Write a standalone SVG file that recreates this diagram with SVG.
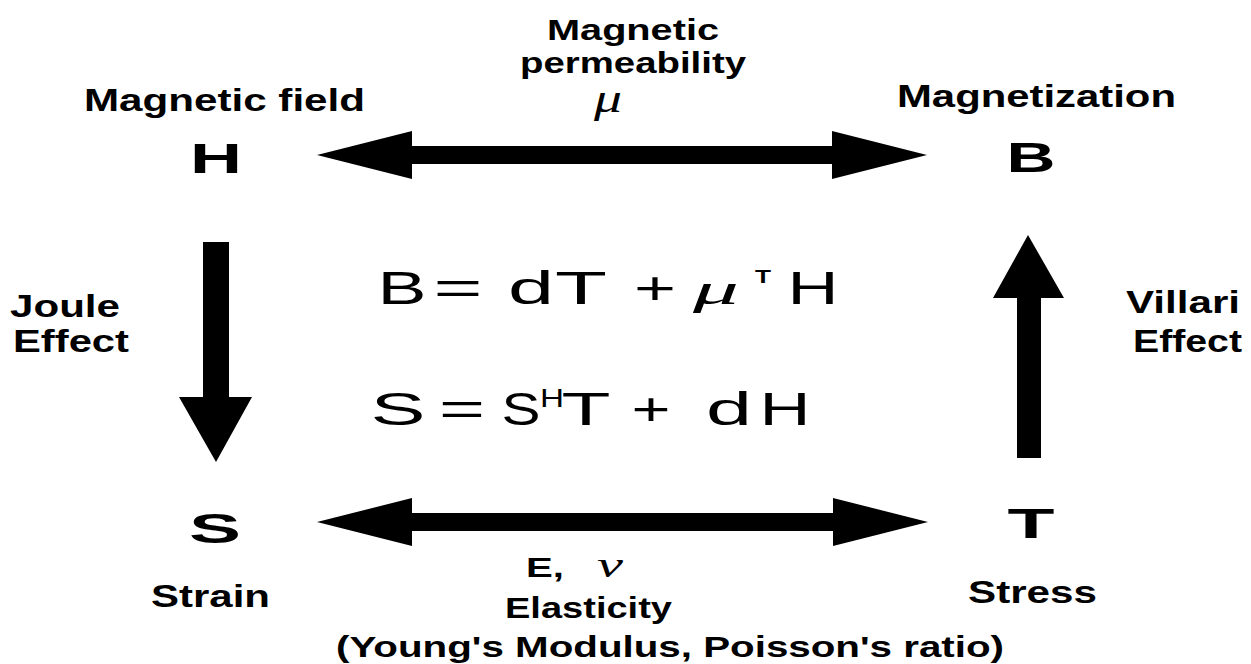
<svg xmlns="http://www.w3.org/2000/svg" width="1251" height="664" viewBox="0 0 1251 664">
<style>
.lb{font-family:"Liberation Sans",Arial,sans-serif;font-weight:bold;font-size:31px;fill:#000}
.big{font-family:"Liberation Sans",Arial,sans-serif;font-weight:bold;font-size:43px;fill:#000;text-anchor:middle}
.eq{font-family:"Liberation Sans",Arial,sans-serif;font-size:46px;fill:#000;text-anchor:middle}
.gr{font-family:"Liberation Serif","Times New Roman",serif;font-style:italic;fill:#000;text-anchor:middle}
.arr{fill:#000}
</style>
<rect width="1251" height="664" fill="#fff"/>
<g id="connectors">
<polygon class="arr" points="317,155 412,131 412,146 832,146 832,131 927,155 832,179 832,164 412,164 412,179"/>
<polygon class="arr" points="317,522 412,498 412,513 833,513 833,498 928,522 833,546 833,531 412,531 412,546"/>
<polygon class="arr" points="203,242 229,242 229,397 252,397 216,462 179,397 203,397"/>
<polygon class="arr" points="1028,235 1064,298 1041,298 1041,458 1017,458 1017,298 993,298"/>
</g>
<g id="permeability-label">
<text class="lb" x="633" y="40" text-anchor="middle" style="font-size:30px" textLength="172" lengthAdjust="spacingAndGlyphs">Magnetic</text>
<text class="lb" x="633" y="73" text-anchor="middle" style="font-size:30px" textLength="226" lengthAdjust="spacingAndGlyphs">permeability</text>
<text class="gr" x="608" y="112" style="font-size:40px" textLength="28" lengthAdjust="spacingAndGlyphs">μ</text>
</g>
<g id="node-H">
<text class="lb" x="84" y="111" style="font-size:32px" textLength="281" lengthAdjust="spacingAndGlyphs">Magnetic field</text>
<text class="big" x="216" y="173" textLength="52" lengthAdjust="spacingAndGlyphs">H</text>
</g>
<g id="node-B">
<text class="lb" x="897" y="107" style="font-size:32px" textLength="279" lengthAdjust="spacingAndGlyphs">Magnetization</text>
<text class="big" x="1031" y="172" textLength="49" lengthAdjust="spacingAndGlyphs">B</text>
</g>
<g id="joule-label">
<text class="lb" x="10" y="317" textLength="110" lengthAdjust="spacingAndGlyphs">Joule</text>
<text class="lb" x="13" y="352" textLength="116" lengthAdjust="spacingAndGlyphs">Effect</text>
</g>
<g id="villari-label">
<text class="lb" x="1126" y="313" textLength="114" lengthAdjust="spacingAndGlyphs">Villari</text>
<text class="lb" x="1133" y="352" textLength="109" lengthAdjust="spacingAndGlyphs">Effect</text>
</g>
<g id="equations">
<text class="eq" x="402" y="304" textLength="49" lengthAdjust="spacingAndGlyphs">B</text>
<text class="eq" x="458" y="304" textLength="49" lengthAdjust="spacingAndGlyphs">=</text>
<text class="eq" x="531" y="304" textLength="46" lengthAdjust="spacingAndGlyphs">d</text>
<text class="eq" x="581" y="304" textLength="52" lengthAdjust="spacingAndGlyphs">T</text>
<text class="eq" x="655" y="304" textLength="42" lengthAdjust="spacingAndGlyphs">+</text>
<text class="gr" x="716" y="304" style="font-size:44px" textLength="46" lengthAdjust="spacingAndGlyphs">μ</text>
<text class="eq" x="763" y="283" style="font-size:18px;font-weight:bold" textLength="16" lengthAdjust="spacingAndGlyphs">T</text>
<text class="eq" x="813" y="304" textLength="51" lengthAdjust="spacingAndGlyphs">H</text>
<text class="eq" x="398" y="425" textLength="55" lengthAdjust="spacingAndGlyphs">S</text>
<text class="eq" x="462" y="425" textLength="46" lengthAdjust="spacingAndGlyphs">=</text>
<text class="eq" x="521" y="425" textLength="39" lengthAdjust="spacingAndGlyphs">S</text>
<text class="eq" x="552" y="407" style="font-size:26px" textLength="24" lengthAdjust="spacingAndGlyphs">H</text>
<text class="eq" x="586" y="425" textLength="49" lengthAdjust="spacingAndGlyphs">T</text>
<text class="eq" x="651" y="425" textLength="39" lengthAdjust="spacingAndGlyphs">+</text>
<text class="eq" x="729" y="425" textLength="46" lengthAdjust="spacingAndGlyphs">d</text>
<text class="eq" x="785" y="425" textLength="51" lengthAdjust="spacingAndGlyphs">H</text>
</g>
<g id="node-S">
<text class="big" x="215" y="543" textLength="52" lengthAdjust="spacingAndGlyphs">S</text>
<text class="lb" x="151" y="607" textLength="119" lengthAdjust="spacingAndGlyphs">Strain</text>
</g>
<g id="node-T">
<text class="big" x="1031" y="538" textLength="47" lengthAdjust="spacingAndGlyphs">T</text>
<text class="lb" x="968" y="603" textLength="129" lengthAdjust="spacingAndGlyphs">Stress</text>
</g>
<g id="elasticity-label">
<text class="lb" x="526" y="577" style="font-size:28px" textLength="38" lengthAdjust="spacingAndGlyphs">E,</text>
<text class="gr" x="610" y="577" style="font-size:36px" textLength="26" lengthAdjust="spacingAndGlyphs">ν</text>
<text class="lb" x="505" y="618" style="font-size:29px" textLength="167" lengthAdjust="spacingAndGlyphs">Elasticity</text>
<text class="lb" x="336" y="657" style="font-size:29px" textLength="668" lengthAdjust="spacingAndGlyphs">(Young's Modulus, Poisson's ratio)</text>
</g>
</svg>
